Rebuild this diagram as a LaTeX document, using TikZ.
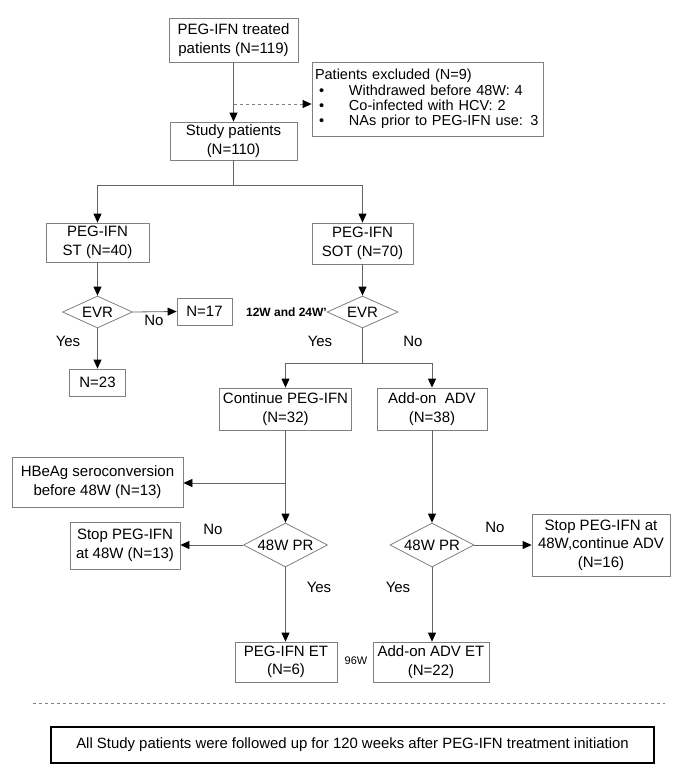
\documentclass[tikz,border=0pt]{standalone}
\usepackage{fontspec}
\setmainfont{Liberation Sans}
\usetikzlibrary{arrows.meta,shapes.geometric}
\definecolor{boxgray}{RGB}{128,128,128}
\definecolor{linegray}{RGB}{100,100,100}
\begin{document}
\begin{tikzpicture}[x=1pt,y=-1pt,
  every node/.style={font=\fontsize{15}{18.5}\selectfont},
  box/.style={draw=boxgray,line width=0.8pt,inner sep=0pt,align=center},
  dia/.style={draw=boxgray,line width=0.8pt,shape=diamond,inner sep=0pt,aspect=2},
  conn/.style={draw=linegray,line width=0.8pt},
  arr/.style={conn,-{Triangle[length=9pt,width=8pt,color=black]}},
  lbl/.style={inner sep=0pt},
  small/.style={inner sep=0pt,font=\fontsize{11}{12}\selectfont}]
\useasboundingbox (0,0) rectangle (684,769);
\fill[white] (0,0) rectangle (684,769);

% boxes
\node[box,minimum width=129,minimum height=44] (b1) at (233.5,40) {PEG-IFN treated\\patients (N=119)};
\node[box,minimum width=127,minimum height=38] (study) at (233.5,141) {Study patients\\(N=110)};
\node[box,minimum height=74,inner xsep=3pt,text width=225,align=left,font=\fontsize{14.5}{15.4}\selectfont] (excl) at (427.5,99)
 {\mbox{Patients excluded (N=9)}\\
  \mbox{\hspace*{4pt}\makebox[30pt][l]{\textbullet}Withdrawed before 48W: 4}\\
  \mbox{\hspace*{4pt}\makebox[30pt][l]{\textbullet}Co-infected with HCV: 2}\\
  \mbox{\hspace*{4pt}\makebox[30pt][l]{\textbullet}NAs prior to PEG-IFN use: 3}};
\node[box,minimum width=103,minimum height=39] (st) at (97.5,242.5) {PEG-IFN\\ST (N=40)};
\node[box,minimum width=101,minimum height=41] (sot) at (362.5,243.5) {PEG-IFN\\SOT (N=70)};
\node[dia,minimum width=70,minimum height=32] (evr1) at (97.5,312) {EVR};
\node[box,minimum width=55,minimum height=27] (n17) at (204.5,311.5) {N=17};
\node[box,minimum width=56,minimum height=27] (n23) at (97.5,382.5) {N=23};
\node[dia,minimum width=71,minimum height=32] (evr2) at (362.5,312) {EVR};
\node[box,minimum width=132,minimum height=42] (cont) at (285.5,409) {Continue PEG-IFN\\(N=32)};
\node[box,minimum width=110,minimum height=42] (addon) at (432,409) {Add-on\ \ ADV\\(N=38)};
\node[box,minimum width=171,minimum height=50] (hbeag) at (97.5,482) {HBeAg seroconversion\\before 48W (N=13)};
\node[dia,minimum width=84,minimum height=44] (pr1) at (285.5,545) {48W PR};
\node[dia,minimum width=84,minimum height=44] (pr2) at (432,545) {48W PR};
\node[box,minimum width=110,minimum height=47] (stop1) at (125,545.5) {Stop PEG-IFN\\at 48W (N=13)};
\node[box,minimum width=138,minimum height=62] (stop2) at (601,545) {Stop PEG-IFN at\\48W,continue ADV\\(N=16)};
\node[box,minimum width=102,minimum height=40] (et1) at (286,662) {PEG-IFN ET\\(N=6)};
\node[box,minimum width=116,minimum height=40] (et2) at (431,662) {Add-on ADV ET\\(N=22)};
\node[draw=black,line width=1.1pt,inner sep=0pt,minimum width=603,minimum height=36,font=\fontsize{14.9}{18}\selectfont] (foot) at (352.5,745)
 {All Study patients were followed up for 120 weeks after PEG-IFN treatment initiation};

% connectors
\draw[arr] (b1.south) -- (study.north);
\coordinate (d0) at (233.5,104);
\draw[arr,dashed,draw=boxgray] (d0) -- (d0 -| excl.west);

\coordinate (s1) at (233.5,185);
\draw[conn] (study.south) -- (s1);
\draw[arr] (s1) -| (st.north);
\draw[arr] (s1) -| (sot.north);

\draw[arr] (st.south) -- (evr1.north);
\draw[arr] (evr1.east) -- (n17.west);
\draw[arr] (evr1.south) -- (n23.north);
\draw[arr] (sot.south) -- (evr2.north);

\coordinate (s2) at (362.5,363);
\draw[conn] (evr2.south) -- (s2);
\draw[arr] (s2) -| (cont.north);
\draw[arr] (s2) -| (addon.north);

\coordinate (s3) at (285.5,483);
\draw[arr] (cont.south) -- (pr1.north);
\draw[arr] (s3) -- (s3 -| hbeag.east);
\draw[arr] (pr1.west) -- (pr1.west -| stop1.east);
\draw[arr] (pr1.south) -- (et1.north -| pr1.south);
\draw[arr] (addon.south) -- (pr2.north);
\draw[arr] (pr2.east) -- (pr2.east -| stop2.west);
\draw[arr] (pr2.south) -- (et2.north -| pr2.south);

% labels
\node[lbl] (l1) at (154,320) {No};
\node[lbl] (l2) at (68,341) {Yes};
\node[lbl] (l3) at (320,341) {Yes};
\node[lbl] (l4) at (413,341) {No};
\node[small,font=\fontsize{12}{13}\selectfont\bfseries,anchor=east] (l5) at (327,312) {12W and 24W'};
\node[lbl] (l6) at (213,529) {No};
\node[lbl] (l7) at (495,527) {No};
\node[lbl] (l8) at (319,587) {Yes};
\node[lbl] (l9) at (398,587) {Yes};
\node[small] (l10) at (356,661) {96W};

% separator
\coordinate (sepL) at (33,703);
\coordinate (sepR) at (665,703);
\draw[draw=boxgray,line width=0.7pt,dashed] (sepL) -- (sepR);
\end{tikzpicture}
\end{document}
